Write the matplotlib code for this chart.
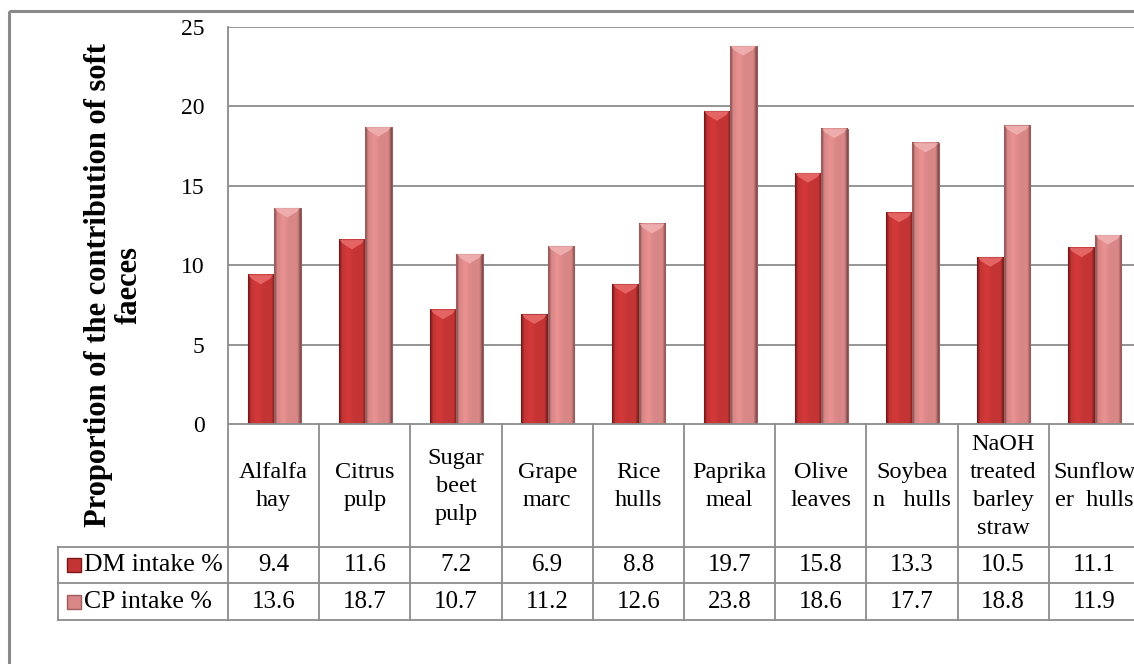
import numpy as np
import matplotlib
matplotlib.use("Agg")
import matplotlib.pyplot as plt
from matplotlib.patches import Rectangle, Polygon
from matplotlib.lines import Line2D

# ---------------- data ----------------
categories = ["Alfalfa\nhay", "Citrus\npulp", "Sugar\nbeet\npulp", "Grape\nmarc",
              "Rice\nhulls", "Paprika\nmeal", "Olive\nleaves", "Soybea\nn   hulls",
              "NaOH\ntreated\nbarley\nstraw", "Sunflow\ner  hulls"]
series_names = ["DM intake %", "CP intake %"]
dm_values = [9.4, 11.6, 7.2, 6.9, 8.8, 19.7, 15.8, 13.3, 10.5, 11.1]
cp_values = [13.6, 18.7, 10.7, 11.2, 12.6, 23.8, 18.6, 17.7, 18.8, 11.9]
y_ticks = [0, 5, 10, 15, 20, 25]
y_label = "Proportion of the contribution of soft\nfaeces"

# ---------------- style ----------------
W, H, DPI = 1134, 664, 100
FONT = "Liberation Serif"
plt.rcParams["font.family"] = [FONT, "DejaVu Serif"]
GRID = "#8c8c8c"
base_colors = [np.array([196, 52, 52]) / 255.0, np.array([216, 134, 134]) / 255.0]
dark_colors = [np.array([125, 22, 22]) / 255.0, np.array([160, 92, 92]) / 255.0]
cap_colors = ["#e86a6a", "#f0b0b0"]

fig = plt.figure(figsize=(W / DPI, H / DPI), dpi=DPI)

# plot area in pixel geometry
x_left, x_right = 228, 1140
y_top, y_zero = 27, 424
ax = fig.add_axes([x_left / W, 1 - y_zero / H, (x_right - x_left) / W, (y_zero - y_top) / H])
ax.set_xlim(0, len(categories))
ax.set_ylim(0, 25)
ax.set_yticks(y_ticks)
ax.set_yticklabels([str(t) for t in y_ticks], fontsize=17, fontfamily=FONT)
ax.tick_params(axis="y", length=0, pad=17)
ax.set_xticks([])
for s in ["top", "right", "bottom"]:
    ax.spines[s].set_visible(False)
ax.spines["left"].set_color(GRID)
ax.spines["left"].set_linewidth(1.3)
for t in y_ticks[1:]:
    ax.axhline(t, color=GRID, lw=1.3, zorder=1)

# bars with horizontal shading
width = 0.29
offsets = [-0.145, 0.145]
tt = np.linspace(0, 1, 60)
prof = np.ones_like(tt)
prof = np.where(tt < 0.12, 0.55 + 0.45 * tt / 0.12, prof)
prof = np.where(tt > 0.88, 0.55 + 0.45 * (1 - tt) / 0.12, prof)
prof = prof * (1 + 0.08 * np.exp(-((tt - 0.35) / 0.15) ** 2))

for si, vals in enumerate([dm_values, cp_values]):
    base = base_colors[si]
    img = np.clip(base[None, None, :] * prof[None, :, None], 0, 1)
    for i, v in enumerate(vals):
        c = i + 0.505 + offsets[si]
        x0, x1 = c - width / 2, c + width / 2
        ax.imshow(img, extent=[x0, x1, 0, v], aspect="auto", zorder=3, interpolation="bilinear")
        ax.add_patch(Rectangle((x0, 0), width, v, fill=False, edgecolor=dark_colors[si], lw=0.8, zorder=4))
        d = 0.6
        ax.add_patch(Polygon([[x0 + 0.01, v], [x1 - 0.01, v], [x1 - 0.04, v - d * 0.4], [c, v - d], [x0 + 0.04, v - d * 0.4]],
                             closed=True, facecolor=cap_colors[si], edgecolor="none", alpha=0.9, zorder=4))
ax.set_xlim(0, len(categories))
ax.set_ylim(0, 25)

# ---------------- overlay for frame, table, title ----------------
ov = fig.add_axes([0, 0, 1, 1], zorder=5)
ov.set_xlim(0, W)
ov.set_ylim(H, 0)
ov.axis("off")
ov.patch.set_alpha(0)

# outer chart frame
ov.add_patch(Rectangle((9, 11), 1400, 1000, fill=False, edgecolor="#8a8a8a", lw=2.2))

# table grid
col_w = (x_right - x_left) / len(categories)
row_h0, row_h1, row_h2, row_h3 = 424, 547, 583, 620
leg_left = 58
lc = "#8c8c8c"
ov.add_line(Line2D([x_left, W + 20], [row_h0, row_h0], color=lc, lw=1.3))
for yy in [row_h1, row_h2, row_h3]:
    ov.add_line(Line2D([leg_left, W + 20], [yy, yy], color=lc, lw=1.3))
ov.add_line(Line2D([leg_left, leg_left], [row_h1, row_h3], color=lc, lw=1.3))
for k in range(len(categories) + 1):
    xx = x_left + k * col_w
    ov.add_line(Line2D([xx, xx], [row_h0, row_h3], color=lc, lw=1.3))

# category labels and values
for k, cat in enumerate(categories):
    xc = x_left + (k + 0.5) * col_w
    ov.text(xc, (row_h0 + row_h1) / 2 + 1, cat, ha="center", va="center", fontsize=17.5,
            linespacing=1.45, fontfamily=FONT)
    ov.text(xc, (row_h1 + row_h2) / 2, f"{dm_values[k]:.1f}", ha="center", va="center", fontsize=18, fontfamily=FONT)
    ov.text(xc, (row_h2 + row_h3) / 2, f"{cp_values[k]:.1f}", ha="center", va="center", fontsize=18, fontfamily=FONT)

# legend keys
for si, (ya, yb) in enumerate([(row_h1, row_h2), (row_h2, row_h3)]):
    yc = (ya + yb) / 2
    ov.add_patch(Rectangle((67, yc - 7), 14, 14, facecolor=base_colors[si], edgecolor=dark_colors[si], lw=1))
    ov.text(84, yc, series_names[si], ha="left", va="center", fontsize=18.5, fontfamily=FONT)

# y-axis title
ov.text(114, 285, y_label, rotation=90, ha="center", va="center", fontsize=22,
        fontweight="bold", multialignment="center", linespacing=1.1, fontfamily=FONT)

fig.savefig("out.png", dpi=DPI)
